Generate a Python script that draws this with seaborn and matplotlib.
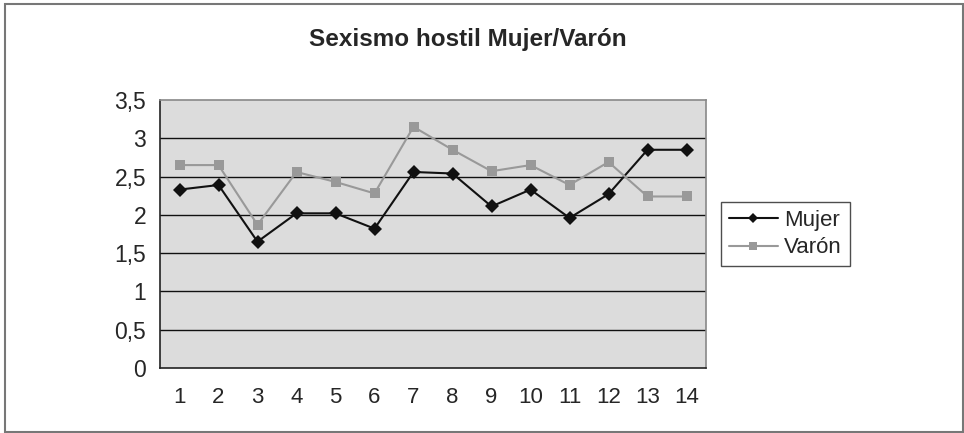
import matplotlib
matplotlib.use("Agg")
import matplotlib.pyplot as plt
from matplotlib.patches import Rectangle
from matplotlib.ticker import FixedLocator, NullFormatter
import seaborn as sns
import pandas as pd

items = list(range(1, 15))
mujer = [2.33, 2.39, 1.65, 2.02, 2.02, 1.82, 2.56, 2.54, 2.11, 2.33, 1.96, 2.27, 2.85, 2.85]
varon = [2.65, 2.65, 1.87, 2.56, 2.43, 2.28, 3.15, 2.85, 2.57, 2.65, 2.39, 2.69, 2.24, 2.24]
y_ticks = [0, 0.5, 1, 1.5, 2, 2.5, 3, 3.5]
y_labels = ["0", "0,5", "1", "1,5", "2", "2,5", "3", "3,5"]

df = pd.DataFrame({
    "item": items * 2,
    "valor": mujer + varon,
    "grupo": ["Mujer"] * len(items) + ["Varón"] * len(items),
})

sns.set_style("white")
plt.rcParams["font.family"] = ["Liberation Sans", "DejaVu Sans"]

fig = plt.figure(figsize=(9.64, 4.33), dpi=100)
ax = fig.add_axes([160 / 964, 1 - 368 / 433, (706 - 160) / 964, (368 - 100) / 433])
ax.set_facecolor("#dcdcdc")

sns.lineplot(
    data=df, x="item", y="valor", hue="grupo", style="grupo",
    palette={"Mujer": "#111111", "Varón": "#999999"},
    markers={"Mujer": "D", "Varón": "s"},
    dashes=False, markersize=7, linewidth=1.5, markeredgewidth=0,
    ax=ax, zorder=3,
)

ax.set_xlim(0.5, 14.5)
ax.set_ylim(0, 3.5)
ax.set_xticks(items)
ax.set_xticklabels([str(i) for i in items])
ax.xaxis.set_minor_locator(FixedLocator([i + 0.5 for i in range(0, 15)]))
ax.xaxis.set_minor_formatter(NullFormatter())
ax.tick_params(axis="x", which="major", length=0, labelsize=16, pad=14)
ax.tick_params(axis="x", which="minor", length=5, width=1, color="#222222", direction="out")
ax.set_yticks(y_ticks)
ax.set_yticklabels(y_labels)
ax.tick_params(axis="y", length=5, width=1, color="#222222", direction="out", labelsize=16.5, pad=5)
ax.set_xlabel("")
ax.set_ylabel("")

for y in y_ticks[1:-1]:
    ax.axhline(y, color="#111111", linewidth=1.0, zorder=1)

ax.spines["left"].set_color("#222222")
ax.spines["bottom"].set_color("#222222")
ax.spines["top"].set_color("#888888")
ax.spines["right"].set_color("#888888")
for s in ax.spines.values():
    s.set_linewidth(1.2)

leg = ax.legend(
    loc="upper left", bbox_to_anchor=(721 / 964, 1 - 202 / 433),
    bbox_transform=fig.transFigure, frameon=True, fancybox=False,
    edgecolor="#222222", fontsize=16, handlelength=2.2, markerscale=0.75,
    borderpad=0.35, labelspacing=0.3, handletextpad=0.3, borderaxespad=0,
)
leg.get_frame().set_linewidth(1.0)

fig.text(0.485, 1 - 46 / 433, "Sexismo hostil Mujer/Varón", ha="center", va="baseline",
         fontsize=17.5, fontweight="bold")

fig.patches.append(Rectangle((5 / 964, 1 / 433), 958 / 964, 428 / 433,
                             transform=fig.transFigure, fill=False,
                             edgecolor="#777777", linewidth=1.5))

fig.savefig("out.png", dpi=100)
